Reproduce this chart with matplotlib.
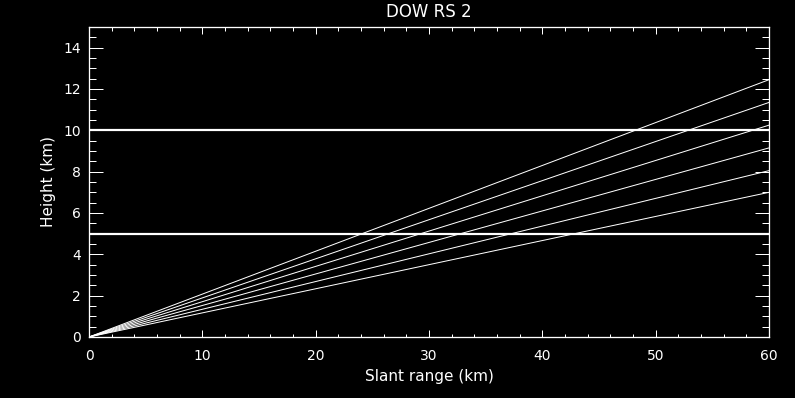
import numpy as np
import matplotlib.pyplot as plt
from matplotlib.ticker import MultipleLocator

# ray end heights at the far range (km)
ray_start_range = [0, 0, 0, 0, 0, 0]
ray_start_height = [0, 0, 0, 0, 0, 0]
ray_end_range = [60, 60, 60, 60, 60, 60]
ray_end_height = [12.45, 11.35, 10.25, 9.15, 8.05, 7.0]

# reference heights (km)
ref_heights = [5, 10]

fig = plt.figure(figsize=(7.95, 3.98), dpi=100, facecolor='black')
ax = fig.add_axes([89 / 795, 1 - 337 / 398, 680 / 795, 310 / 398])
ax.set_facecolor('black')

px = 0.72  # one pixel in points
for x0, y0, x1, y1 in zip(ray_start_range, ray_start_height, ray_end_range, ray_end_height):
    ax.plot([x0, x1], [y0, y1], color='white', lw=1 * px)
for h in ref_heights:
    ax.axhline(h, color='white', lw=2.2 * px)

ax.set_xlim(0, 60)
ax.set_ylim(0, 15)
ax.xaxis.set_major_locator(MultipleLocator(10))
ax.xaxis.set_minor_locator(MultipleLocator(2))
ax.yaxis.set_major_locator(MultipleLocator(2))
ax.yaxis.set_minor_locator(MultipleLocator(0.5))

for s in ax.spines.values():
    s.set_color('white')
    s.set_linewidth(1.3 * px)

ax.tick_params(axis='both', which='both', direction='in', colors='white',
               top=True, right=True, width=1 * px, labelsize=10)
ax.tick_params(axis='x', which='major', length=7 * px, pad=9)
ax.tick_params(axis='x', which='minor', length=3.5 * px)
ax.tick_params(axis='y', which='major', length=14 * px, pad=6)
ax.tick_params(axis='y', which='minor', length=7 * px)

ax.set_title('DOW RS 2', color='white', fontsize=12, pad=7)
ax.set_xlabel('Slant range (km)', color='white', fontsize=11, labelpad=4)
ax.set_ylabel('Height (km)', color='white', fontsize=11, labelpad=5)

fig.savefig('out.png', dpi=100, facecolor='black')
